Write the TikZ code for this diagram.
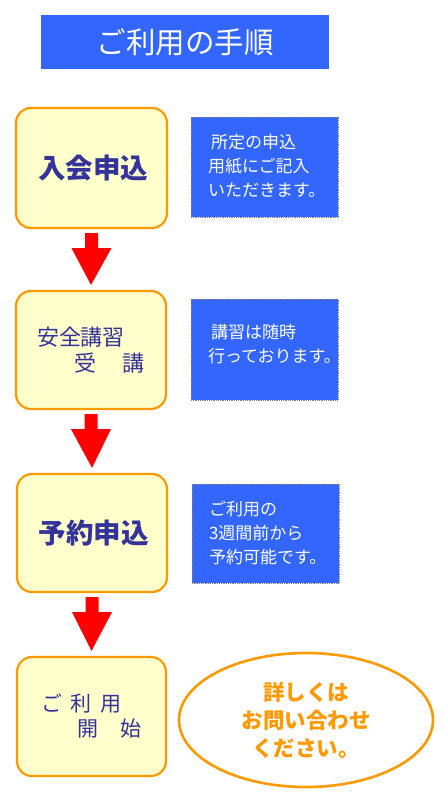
\documentclass[tikz,border=0pt]{standalone}
\usepackage{fontspec}
\setmainfont{Noto Sans CJK JP}
\usetikzlibrary{calc,shapes.geometric}
\definecolor{titleblue}{HTML}{3366FF}
\definecolor{navytext}{HTML}{333399}
\definecolor{paleyellow}{HTML}{FFFFCC}
\definecolor{boxorange}{HTML}{FF9900}
\definecolor{arrowred}{HTML}{FF0000}
\tikzset{
  stepbox/.style={draw=boxorange, line width=2.2pt, fill=paleyellow, rounded corners=15pt,
    inner sep=0pt, text=navytext, align=left},
  infobox/.style={draw=gray, densely dotted, line width=0.8pt, fill=titleblue, text=white,
    inner xsep=17pt, inner ysep=0pt, align=left, font=\fontsize{17}{24}\selectfont},
  flowarrow/.style={fill=arrowred},
}
\newcommand{\redflowarrow}[2]{%
  \fill[flowarrow] ($(#1.south)+(-6.5,4)$) -- ($(#1.south)+(6.5,4)$) -- ($(#1.south)+(6.5,19)$)
    -- ($(#1.south)+(20,19)$) -- ($(#2.north)+(0,-5)$) -- ($(#1.south)+(-20,19)$)
    -- ($(#1.south)+(-6.5,19)$) -- cycle;}
\begin{document}
\begin{tikzpicture}[x=1pt,y=-1pt]
\useasboundingbox (0,0) rectangle (443,793);
\fill[white] (0,0) rectangle (443,793);

\node[fill=titleblue, text=white, minimum width=288pt, minimum height=54pt, inner sep=0pt,
  font=\fontsize{29.5}{32}\selectfont] (title) at (185,42) {ご利用の手順};

\node[stepbox, minimum width=151pt, minimum height=120pt,
  font=\fontsize{27.5}{30}\selectfont\bfseries] (b1) at (91.5,168) {\hspace{3pt}入会申込};
\node[stepbox, minimum width=150pt, minimum height=118pt,
  font=\fontsize{22}{26}\selectfont] (b2) at (91,350)
  {安全講習\\\hspace{37pt}受\hspace{27pt}講\hspace{4pt}};
\node[stepbox, minimum width=150pt, minimum height=118pt,
  font=\fontsize{27.5}{30}\selectfont\bfseries] (b3) at (92,533) {\hspace{3pt}予約申込};
\node[stepbox, minimum width=149pt, minimum height=119pt,
  font=\fontsize{21}{25}\selectfont] (b4) at (91.5,716.5)
  {ご\hspace{9pt}利\hspace{9pt}用\\\hspace{36pt}開\hspace{23pt}始\hspace{8pt}};

\node[infobox, text width=113pt, minimum height=100pt] (i1) at (264.5,167)
  {\mbox{}\\[-11pt]\hspace{3pt}所定の申込\\用紙にご記入\\いただきます。};
\node[infobox, text width=113pt, minimum height=101pt] (i2) at (264.5,349.5)
  {\hspace{3pt}講習は随時\\行っております。\\[-11pt]\mbox{}};
\node[infobox, text width=113pt, minimum height=99pt] (i3) at (265.5,533.5)
  {\mbox{}\\[-11pt]ご利用の\\3週間前から\\予約可能です。};

\node[ellipse, draw=boxorange, line width=2.6pt, fill=white, minimum width=254pt,
  minimum height=134pt, inner sep=0pt, text=boxorange, align=center,
  font=\fontsize{21.5}{28}\selectfont\bfseries] (e) at (306,720)
  {詳しくは\\お問い合わせ\\ください。};

\redflowarrow{b1}{b2}
\redflowarrow{b2}{b3}
\redflowarrow{b3}{b4}
\end{tikzpicture}
\end{document}
